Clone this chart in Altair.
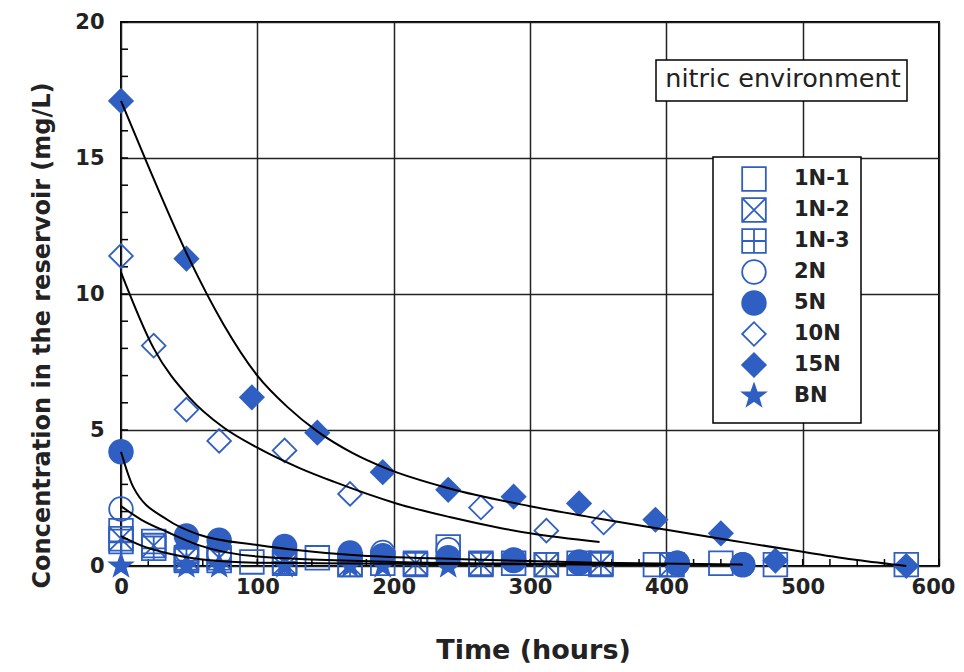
import altair as alt
import pandas as pd

BLUE = "#2f5fc2"
FONT = "DejaVu Sans"

series = ["1N-1", "1N-2", "1N-3", "2N", "5N", "10N", "15N", "BN"]

# measured points (time in hours, concentration mg/L)
t_1n1 = [0, 24, 48, 96, 144, 192, 240, 288, 336, 392, 440, 480, 576]
c_1n1 = [1.3, 0.9, 0.25, 0.15, 0.3, 0.1, 0.7, 0.1, 0.1, 0.05, 0.1, 0.05, 0.05]
t_1n2 = [0, 24, 48, 72, 120, 168, 216, 264, 312, 352, 404]
c_1n2 = [1.0, 0.75, 0.3, 0.3, 0.1, 0.05, 0.1, 0.1, 0.05, 0.1, 0.05]
t_1n3 = [0, 24, 48, 72, 120, 168, 216, 264, 312, 352, 404]
c_1n3 = [0.9, 0.65, 0.2, 0.2, 0.15, 0.05, 0.05, 0.05, 0.05, 0.05, 0.05]
t_2n = [0, 48, 72, 120, 168, 192, 240, 288, 336, 408, 456]
c_2n = [2.1, 0.55, 0.45, 0.55, 0.4, 0.5, 0.6, 0.2, 0.12, 0.1, 0.05]
t_5n = [0, 48, 72, 120, 168, 192, 240, 288, 336, 408, 456]
c_5n = [4.2, 1.1, 0.95, 0.72, 0.48, 0.38, 0.3, 0.22, 0.15, 0.1, 0.05]
t_10n = [0, 24, 48, 72, 120, 168, 264, 312, 354]
c_10n = [11.4, 8.1, 5.75, 4.6, 4.25, 2.65, 2.15, 1.3, 1.6]
t_15n = [0, 48, 96, 144, 192, 240, 288, 336, 392, 440, 480, 576]
c_15n = [17.1, 11.3, 6.2, 4.9, 3.45, 2.8, 2.55, 2.3, 1.7, 1.2, 0.2, 0.0]
t_bn = [0, 48, 72, 120, 168, 192, 240]
c_bn = [0, 0, 0, 0, 0, 0, 0]

# fitted curves
fit_15n_t = [0, 20, 49, 75, 100, 122, 144, 170, 194, 241, 300, 350, 400, 450, 500, 540, 576]
fit_15n_c = [17.1, 14.7, 11.4, 8.9, 7.0, 5.85, 4.95, 4.15, 3.6, 2.85, 2.2, 1.75, 1.33, 0.92, 0.52, 0.22, 0.0]
fit_10n_t = [0, 24, 50, 75, 100, 131, 156, 202, 241, 278, 300, 351]
fit_10n_c = [10.8, 8.0, 6.2, 5.1, 4.35, 3.6, 3.1, 2.3, 1.8, 1.4, 1.2, 0.88]
fit_5n_t = [0, 9, 34, 58, 100, 170, 250, 350, 456]
fit_5n_c = [4.2, 2.9, 1.7, 1.14, 0.77, 0.4, 0.25, 0.12, 0.05]
fit_2n_t = [0, 15, 34, 58, 100, 200, 300, 400]
fit_2n_c = [2.2, 1.7, 1.25, 0.75, 0.35, 0.15, 0.08, 0.05]
fit_1n_t = [0, 15, 34, 58, 100, 200, 300, 400]
fit_1n_c = [1.1, 0.75, 0.47, 0.25, 0.12, 0.08, 0.06, 0.05]

y_minor = list(range(0, 21))
x_minor = list(range(0, 601, 20))

pts = []
for name, ts, cs in [("1N-1", t_1n1, c_1n1), ("1N-2", t_1n2, c_1n2), ("1N-3", t_1n3, c_1n3),
                     ("2N", t_2n, c_2n), ("5N", t_5n, c_5n), ("10N", t_10n, c_10n),
                     ("15N", t_15n, c_15n), ("BN", t_bn, c_bn)]:
    for t, c in zip(ts, cs):
        pts.append({"series": name, "t": t, "c": c})
pts = pd.DataFrame(pts)

fits = []
for name, ts, cs in [("15N", fit_15n_t, fit_15n_c), ("10N", fit_10n_t, fit_10n_c),
                     ("5N", fit_5n_t, fit_5n_c), ("2N", fit_2n_t, fit_2n_c),
                     ("1N", fit_1n_t, fit_1n_c)]:
    for t, c in zip(ts, cs):
        fits.append({"fit": name, "t": t, "c": c})
fits = pd.DataFrame(fits)

xsc = alt.Scale(domain=[0, 600], nice=False)
ysc = alt.Scale(domain=[0, 20], nice=False)

xaxis = alt.Axis(values=[0, 100, 200, 300, 400, 500, 600], title="Time  (hours)",
                 titleFontSize=27, titlePadding=40, titleX=412, labelPadding=10, labelFlush=False,
                 labelOffset={"condition": {"test": "datum.value == 600", "value": -6}, "value": 0})
yaxis = alt.Axis(values=[0, 5, 10, 15, 20], title="Concentration in the reservoir  (mg/L)",
                 titleFontSize=24, titlePadding=20, titleY=313, labelPadding=17)

SQ_X = "M-1,-1L1,-1L1,1L-1,1Z M-1,-1L1,1 M1,-1L-1,1"
SQ_P = "M-1,-1L1,-1L1,1L-1,1Z M0,-1L0,1 M-1,0L1,0"
STAR = ("M0,-1L0.235,-0.324L0.951,-0.309L0.38,0.124L0.588,0.809L0,0.4"
        "L-0.588,0.809L-0.38,0.124L-0.951,-0.309L-0.235,-0.324Z")
shapes = ["square", SQ_X, SQ_P, "circle", "circle", "diamond", "diamond", STAR]
fills = ["transparent", "transparent", "transparent", "transparent", BLUE, "transparent", BLUE, BLUE]
strokes = [BLUE] * 8

leg = alt.Legend(title=None, orient="none", legendX=620, legendY=144, symbolSize=560,
                 symbolStrokeWidth=1.8, labelFont=FONT, labelFontWeight="bold",
                 labelFontSize=21, labelColor="#222", labelOffset=27, rowPadding=-1,
                 padding=0)

one = pd.DataFrame({"k": [0]})

nitric_box = alt.Chart(one).mark_rect(fill="white", stroke="black", strokeWidth=1.5).encode(
    x=alt.value(535), x2=alt.value(786), y=alt.value(38), y2=alt.value(79))
nitric_text = alt.Chart(one).mark_text(text="nitric environment", font=FONT, fontSize=25.5,
                                       color="#222", align="center", baseline="middle").encode(
    x=alt.value(662), y=alt.value(57))
legend_box = alt.Chart(one).mark_rect(fill="white", stroke="black", strokeWidth=1.5).encode(
    x=alt.value(592), x2=alt.value(740), y=alt.value(135), y2=alt.value(401))

ymin = alt.Chart(pd.DataFrame({"v": y_minor})).mark_rule(color="black", strokeWidth=1.5).encode(
    y=alt.Y("v:Q", scale=ysc, axis=yaxis), x=alt.value(0), x2=alt.value(7))
xmin = alt.Chart(pd.DataFrame({"v": x_minor})).mark_rule(color="black", strokeWidth=1.5).encode(
    x=alt.X("v:Q", scale=xsc, axis=xaxis), y=alt.value(544), y2=alt.value(537))

points = alt.Chart(pts).mark_point(strokeWidth=1.8, opacity=1, fillOpacity=1).encode(
    x=alt.X("t:Q", scale=xsc, axis=xaxis),
    y=alt.Y("c:Q", scale=ysc, axis=yaxis),
    shape=alt.Shape("series:N", scale=alt.Scale(domain=series, range=shapes), legend=leg),
    fill=alt.Fill("series:N", scale=alt.Scale(domain=series, range=fills), legend=leg),
    stroke=alt.Stroke("series:N", scale=alt.Scale(domain=series, range=strokes), legend=leg),
    size=alt.value(560),
)

lines = alt.Chart(fits).mark_line(color="black", strokeWidth=2, interpolate="monotone").encode(
    x=alt.X("t:Q", scale=xsc, axis=xaxis),
    y=alt.Y("c:Q", scale=ysc, axis=yaxis),
    detail="fit:N",
)

chart = alt.layer(ymin, xmin, nitric_box, legend_box, points, lines, nitric_text).properties(
    width=818, height=544,
    autosize=alt.AutoSizeParams(type="none"),
    padding={"left": 113, "top": 14, "right": 17, "bottom": 98},
).configure_view(stroke="black", strokeWidth=2).configure_axis(
    grid=True, gridColor="#222", gridWidth=1.5, gridOpacity=1, ticks=False, domain=False,
    labelFont=FONT, labelFontWeight="bold", labelFontSize=21, labelColor="#222",
    titleFont=FONT, titleFontWeight="bold", titleColor="#222",
)

chart.save("out.html", embed_options={"renderer": "svg", "actions": False})
